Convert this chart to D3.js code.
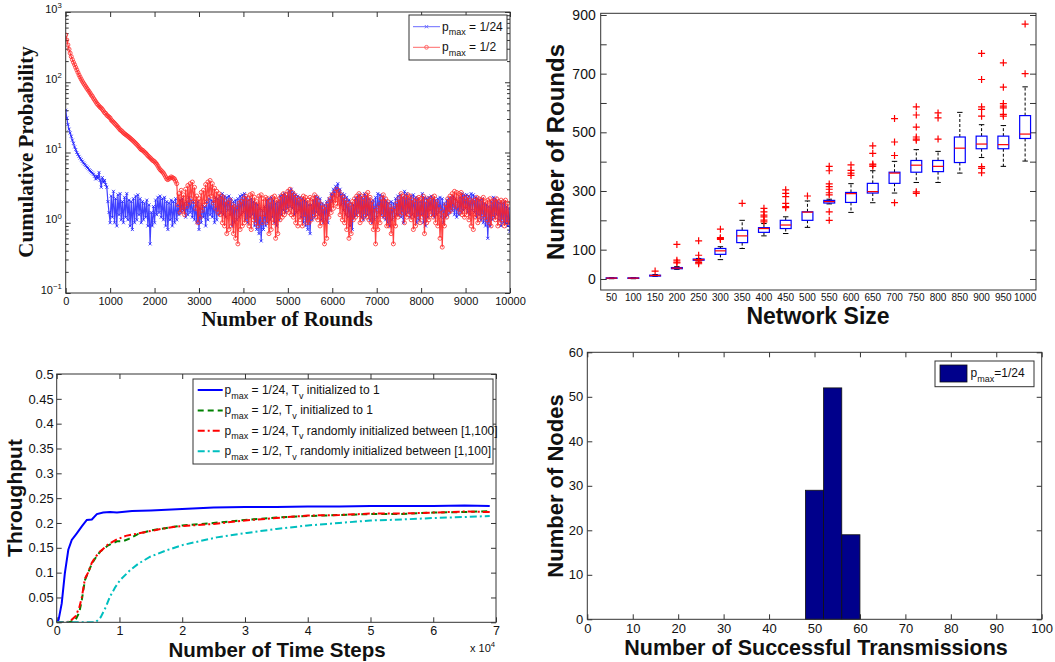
<!DOCTYPE html>
<html><head><meta charset="utf-8">
<script src="https://cdn.jsdelivr.net/npm/d3@7"></script>
<style>
body{margin:0;background:#fff}
svg{display:block}
text{font-family:"Liberation Sans",Arial,Helvetica,sans-serif;fill:#111}
</style>
</head><body>
<svg id="c" width="1055" height="662"></svg>
<script>
// ---------------- DATA ----------------
// Panel 1: cumulative probability vs rounds (one reading every roundsStep rounds)
const roundsStep = 25;
const probPmax24 = [
40,31,25,21.5,19,17,15,13.5,12,11, 10,9.4,8.8,8.3,7.9,7.5,7.1,6.8,6.5,6.2,
6,5.7,5.5,5.3,5.1,4.9,4.6,4.2,4.6,4.3, 5.2,4.0,3.2,4.4,3.8,4.0,3.5,3.2,2.0,1.4,
1.0,2.4,1.2,2.8,1.0,2.2,0.9,2.5,1.3,2.6,1.1,2.0,1.0,2.3,1.2,2.6,1.1,2.1,0.9,2.0,
0.8,2.2,1.0,2.4,1.1,2.5,1.3,2.2,1.0,2.0,1.1,1.9,1.2,2.1,0.9,1.8,0.5,1.4,0.9,1.7,
1.0,2.1,1.3,2.3,1.4,2.4,1.2,2.2,1.1,2.3,0.9,2.0,0.8,1.9,1.1,2.1,0.9,2.0,1.0,2.2,
1.1,1.8,1.3,2.1,1.4,2.2,1.5,1.9,1.2,2.0,1.3,2.3,1.4,2.1,1.2,2.0,1.1,1.8,1.0,2.0,
0.8,1.6,1.0,1.8,1.2,1.7,0.9,2.0,1.1,2.2,1.3,2.1,1.2,2.0,1.0,2.3,1.1,2.2,1.3,2.4,
1.4,2.6,1.3,2.4,1.2,2.3,1.5,2.4,1.3,2.2,0.9,2.0,1.0,2.1,1.1,2.2,1.2,2.4,1.3,2.5,
1.4,2.6,1.1,2.3,1.0,2.1,1.2,2.2,1.3,2.0,0.9,1.9,0.8,1.8,0.7,1.6,0.55,1.5,0.8,1.7,
0.9,2.1,1.0,2.2,1.1,2.3,1.2,2.1,1.0,1.9,0.9,2.0,1.1,2.4,1.3,2.5,1.5,2.6,1.4,2.4,
1.6,2.8,1.7,3.0,1.6,2.7,1.3,2.5,1.4,2.4,1.5,2.3,1.2,2.2,1.0,2.1,0.9,2.0,0.8,1.8,
0.7,1.8,1.1,2.1,1.2,2.4,1.4,2.3,1.3,2.2,1.1,1.9,1.0,1.8,1.1,2.0,1.0,2.2,1.5,2.6,
2.0,3.0,2.4,3.3,2.8,3.6,2.4,3.0,1.8,2.6,1.5,2.5,1.3,2.3,1.2,2.1,0.9,1.9,0.8,1.8,
1.2,2.2,1.3,2.4,1.4,2.5,1.2,2.3,1.1,2.6,1.2,2.4,1.3,2.2,1.1,2.0,1.0,2.1,1.1,2.3,
1.2,2.6,1.4,2.5,1.3,2.4,1.2,2.2,1.1,2.0,1.0,1.9,0.9,2.0,1.1,1.9,1.2,2.2,1.3,2.4,
1.3,2.5,1.2,2.3,1.0,2.8,1.3,2.6,1.4,2.2,1.2,2.4,1.3,2.5,1.2,2.3,1.0,2.2,1.1,2.0,
1.3,2.6,1.0,2.3,0.9,2.2,1.2,2.3,1.5,2.4,1.3,2.2,1.2,2.1,1.3,2.2,1.4,2.3,1.2,2.2,
1.0,1.9,1.2,2.1,1.3,2.2,1.4,2.3,1.5,2.4,1.3,2.2,1.2,2.0,1.3,2.3,1.4,2.6,1.5,2.5,
1.6,2.5,1.4,2.4,1.3,2.6,1.5,2.5,1.4,2.3,1.2,2.2,1.3,2.1,1.1,2.2,1.0,1.9,0.9,1.8,
0.6,1.7,0.9,2.0,1.1,2.3,1.2,2.2,1.3,2.0,1.1,1.9,0.9,1.9,1.0,2.0,1.0,1.7,0.9,1.6,
0.75];
const probPmax2 = [
470,400,340,295,260,232,210,192,178,163, 150,138,127,118,110,103,97,92,87,82,
78,74,70,66,63,59,56,53,50,48, 46,44,43,41,39,37,36,34,33,32,
31,29,28,27,26,25,24,23,22,21, 20.5,19.8,19,18.5,18,17.5,17,16.5,16,15.5,
15,14.5,14,13.5,13,12.5,12,11.4,11,10.8, 10.5,10.1,9.8,9.4,9,8.7,8.4,8.1,7.8,7.6,
7.4,7.1,6.8,6.4,6,5.7,5.5,5.3,5.1,4.8, 4.5,4.2,4.1,4.3,4.3,4.5,4.4,4.3,4.2,3.9,
3.6,
1.8,2.6,1.4,2.9,1.5,2.5,1.3,3.0,1.7,3.4,1.9,3.6,2.2,3.8,2.0,3.2,1.6,2.4,1.0,2.2,
1.2,2.7,1.5,2.9,1.8,3.5,2.0,3.8,2.3,4.0,2.4,3.6,1.9,3.1,1.6,2.8,1.4,2.6,1.3,2.4,
1.0,2.3,0.9,2.0,0.7,1.9,0.8,2.1,0.9,1.8,0.7,1.7,0.6,1.6,0.5,1.9,0.8,2.0,0.9,2.2,
1.0,2.4,1.1,2.2,0.9,2.5,0.8,2.6,1.1,2.3,1.0,2.0,0.9,2.4,1.2,2.5,1.0,2.2,1.2,2.3,
1.0,2.2,0.7,2.0,0.8,2.3,1.0,2.4,0.6,2.1,0.7,2.2,1.1,2.4,1.2,2.6,1.3,2.5,1.5,2.8,
1.4,3.0,1.3,2.7,1.2,2.5,1.0,2.3,0.9,2.1,1.1,2.2,0.9,2.4,1.2,2.3,1.0,2.1,1.0,2.3,
1.1,2.2,1.3,2.5,1.2,2.3,1.1,2.0,0.9,1.8,1.0,1.6,0.5,1.7,0.6,1.9,1.2,2.2,1.4,2.5,
1.6,2.7,1.9,3.0,1.7,2.8,1.3,2.5,1.1,2.3,1.0,2.1,0.8,1.9,0.6,1.8,0.7,2.0,1.1,2.2,
1.2,2.4,1.3,2.6,1.0,2.4,1.1,2.2,1.3,2.5,1.2,2.7,1.1,2.3,1.0,2.0,0.8,1.6,0.5,1.5,
0.8,1.8,1.0,2.2,1.3,2.5,1.2,2.2,0.9,2.0,0.9,1.7,0.7,1.5,0.5,1.6,0.9,1.9,1.2,2.2,
1.3,2.6,1.4,2.4,1.0,2.3,1.2,2.5,1.3,2.4,1.1,2.1,0.8,2.0,0.9,2.2,1.2,2.3,1.0,2.2,
1.2,2.4,0.7,2.0,1.0,2.2,1.1,2.1,1.3,2.3,1.2,2.4,1.0,2.0,0.9,1.7,0.6,1.5,0.45,1.4,
0.9,1.8,1.2,2.2,1.4,2.4,1.5,2.6,1.8,2.8,1.7,2.7,1.6,2.6,1.4,2.7,1.3,2.4,1.2,2.2,
1.3,2.3,1.1,2.1,0.9,2.0,0.8,2.1,1.2,2.3,1.0,2.2,1.1,2.1,1.3,2.3,1.2,2.0,1.1,2.1,
1.0,2.2,0.9,2.0,1.2,2.1,1.1,2.2,0.9,2.0,1.0,2.1,1.1,2.0,0.9,2.1,1.0,1.9,1.1,1.0];
const roundTicks = [0,1000,2000,3000,4000,5000,6000,7000,8000,9000,10000];
const probTicks = [0.1,1,10,100,1000];
const probLegend = ["= 1/24", "= 1/2"];

// Panel 2: boxplot of rounds vs network size
const networkSizes = [50,100,150,200,250,300,350,400,450,500,550,600,650,700,750,800,850,900,950,1000];
const roundsQ1     = [2,2,10,35,64,84,124,159,172,200,259,261,293,326,364,366,397,444,444,479];
const roundsMedian = [3,3,12,37,66,96,147,172,184,228,264,291,298,361,388,384,446,460,458,494];
const roundsQ3     = [4,4,13,39,68,104,166,175,200,229,268,295,326,364,404,404,484,487,487,557];
const roundsLow    = [1,1,9,33,62,66,104,147,155,176,256,227,260,293,329,329,361,414,384,402];
const roundsHigh   = [5,5,15,42,70,110,200,189,212,266,272,325,369,401,441,435,568,526,523,655];
const roundsOutliers = [[],[],[27],[118,64,58,55],[130,81,62,56,52],[170,141,138,135],[258],
  [241,229,218,212,201,195],[304,292,281,258,247,243],[283],
  [384,369,324,315,306,294,287,229,200],[389,370,361,353],[454,428,392,389,384],
  [547,467,421,260],[587,559,518,484,477,473,297,292],[566,549,477],[],
  [769,680,587,578,555,383,377,362],[737,654,598,589,583,561,555],[869,700]];
const roundsAxisTicks = [0,100,200,300,400,500,600,700,800,900];
const roundsAxisLabels = [0,100,300,500,700,900];

// Panel 3: throughput vs time steps
const stepsA = [0,300,800,1300,1850,2400,3200,4000,4800,5600,6400,7400,8500,9600,12000,15000,20000,25000,30000,35000,40000,45000,50000,55000,60000,65000,69000];
const thrA   = [0,0.005,0.038,0.099,0.146,0.166,0.179,0.193,0.206,0.207,0.218,0.221,0.222,0.221,0.224,0.225,0.228,0.231,0.232,0.232,0.233,0.233,0.234,0.234,0.234,0.235,0.234];
const stepsB = [0,2000,3000,3600,4000,4500,5000,5600,6200,6900,8200,9600,10500,11500,13000,15000,17500,20000,25000,30000,35000,40000,45000,50000,55000,60000,65000,69000];
const thrB   = [0,0,0.005,0.02,0.045,0.085,0.1,0.118,0.13,0.142,0.155,0.163,0.163,0.168,0.178,0.185,0.19,0.195,0.2,0.206,0.211,0.214,0.216,0.218,0.218,0.221,0.222,0.224];
const stepsC = [0,2000,3000,3600,4000,4500,5000,5600,6200,6900,8200,9600,11000,13000,15000,17500,20000,25000,30000,35000,40000,45000,50000,55000,60000,65000,69000];
const thrC   = [0,0.001,0.012,0.03,0.05,0.088,0.1,0.12,0.132,0.142,0.157,0.167,0.174,0.179,0.184,0.19,0.194,0.198,0.205,0.21,0.215,0.216,0.219,0.219,0.221,0.223,0.222];
const stepsD = [0,5000,6200,7000,7800,8500,9300,10100,11700,13000,14900,17500,20200,23000,25500,30300,35000,40000,45000,50000,55000,60000,65000,69000];
const thrD   = [0,0,0,0.01,0.03,0.052,0.07,0.085,0.105,0.118,0.132,0.145,0.156,0.164,0.171,0.18,0.188,0.195,0.2,0.205,0.207,0.21,0.212,0.214];
const stepTicks = [0,10000,20000,30000,40000,50000,60000,70000];
const thrTicks = [0,0.05,0.1,0.15,0.2,0.25,0.3,0.35,0.4,0.45,0.5];
const thrLegendPmax = ["1/24","1/2","1/24","1/2"];
const thrLegendRest = ["initialized to 1","initialized to 1","randomly initialized between [1,100]","randomly initialized between [1,100]"];

// Panel 4: histogram
const binEdges = [48,52,56,60];
const binCounts = [29,52,19];
const transTicks = [0,10,20,30,40,50,60,70,80,90,100];
const nodeTicks = [0,10,20,30,40,50,60];

// ---------------- DRAWING ----------------
const svg = d3.select("#c");
const AX = "#333";

function richText(sel, parts, size){
  let off = 0;
  parts.forEach(([s,m])=>{
    const t = sel.append("tspan").text(s);
    let target = 0, fs = size;
    if(m==="sub"){ target = size*0.38; fs = size*0.75; }
    if(m==="sup"){ target = -size*0.42; fs = size*0.7; }
    t.attr("font-size", fs).attr("dy", target-off);
    off = target;
  });
}
function styleAxis(g, fs){
  g.select(".domain").remove();
  g.selectAll(".tick line").attr("stroke", AX);
  g.selectAll(".tick text").attr("font-size", fs).attr("fill","#111");
}
function frame(g, p){
  g.append("rect").attr("x",p.l).attr("y",p.t).attr("width",p.r-p.l).attr("height",p.b-p.t)
    .attr("fill","none").attr("stroke",AX).attr("stroke-width",1);
}
function clip(id, p){
  svg.append("clipPath").attr("id",id).append("rect")
    .attr("x",p.l).attr("y",p.t).attr("width",p.r-p.l).attr("height",p.b-p.t);
}

// ===== Panel 1 =====
(function(){
  const p = {l:65.7, r:510, t:12, b:293};
  const x = d3.scaleLinear().domain([0,10000]).range([p.l,p.r]);
  const y = d3.scaleLog().domain([0.1,1000]).range([p.b,p.t]);
  const g = svg.append("g");
  clip("c1", p);
  const minor = y.ticks().filter(v => !probTicks.some(t => Math.abs(t-v)<1e-9));

  g.append("g").attr("transform",`translate(0,${p.b})`)
    .call(d3.axisBottom(x).tickValues(roundTicks).tickSize(-5).tickPadding(4).tickFormat(d3.format("d")))
    .call(a=>styleAxis(a,11));
  g.append("g").attr("transform",`translate(0,${p.t})`)
    .call(d3.axisTop(x).tickValues(roundTicks).tickSize(-5).tickFormat(""))
    .call(a=>styleAxis(a,11));
  const yl = g.append("g").attr("transform",`translate(${p.l},0)`)
    .call(d3.axisLeft(y).tickValues(probTicks).tickSize(-5).tickPadding(4).tickFormat(""))
    .call(a=>styleAxis(a,11));
  yl.selectAll(".tick text").each(function(d){
    const e = Math.round(Math.log10(d));
    d3.select(this).attr("text-anchor","end").attr("dy","0.32em")
      .call(t=>richText(t, [["10",""],[e<0?"\u2212"+(-e):String(e),"sup"]], 11));
  });
  g.append("g").attr("transform",`translate(${p.l},0)`)
    .call(d3.axisLeft(y).tickValues(minor).tickSize(-3).tickFormat("")).call(a=>styleAxis(a,11));
  g.append("g").attr("transform",`translate(${p.r},0)`)
    .call(d3.axisRight(y).tickValues(probTicks).tickSize(-5).tickFormat("")).call(a=>styleAxis(a,11));
  g.append("g").attr("transform",`translate(${p.r},0)`)
    .call(d3.axisRight(y).tickValues(minor).tickSize(-3).tickFormat("")).call(a=>styleAxis(a,11));

  const line = d3.line().x((d,i)=>x(i*roundsStep)).y(d=>y(d));
  const dg = g.append("g").attr("clip-path","url(#c1)");
  dg.append("path").datum(probPmax24).attr("d",line).attr("fill","none")
    .attr("stroke","#2020ff").attr("stroke-opacity",0.85).attr("stroke-width",1.2);
  dg.append("g").selectAll("path").data(probPmax24).join("path")
    .attr("transform",(d,i)=>`translate(${x(i*roundsStep)},${y(d)})`)
    .attr("d","M-1.5,-1.5L1.5,1.5M-1.5,1.5L1.5,-1.5")
    .attr("stroke","#1a1aff").attr("stroke-width",0.8).attr("fill","none");
  dg.append("path").datum(probPmax2).attr("d",line).attr("fill","none")
    .attr("stroke","#ff2020").attr("stroke-opacity",0.85).attr("stroke-width",1.2);
  dg.append("g").selectAll("circle").data(probPmax2).join("circle")
    .attr("cx",(d,i)=>x(i*roundsStep)).attr("cy",d=>y(d)).attr("r",2)
    .attr("fill","none").attr("stroke","#ff2a2a").attr("stroke-width",0.8);

  frame(g,p);

  const L = {l:409, t:15, r:507, b:60};
  const lg = g.append("g");
  lg.append("rect").attr("x",L.l).attr("y",L.t).attr("width",L.r-L.l).attr("height",L.b-L.t)
    .attr("fill","#fff").attr("stroke",AX);
  const cols = ["#6a6aff","#ff6a6a"];
  probLegend.forEach((lab,i)=>{
    const yy = 26.7 + i*20.6;
    lg.append("line").attr("x1",413).attr("x2",440).attr("y1",yy).attr("y2",yy).attr("stroke",cols[i]).attr("stroke-width",1);
    if(i===0) lg.append("path").attr("transform",`translate(426.5,${yy})`).attr("d","M-1.6,-1.6L1.6,1.6M-1.6,1.6L1.6,-1.6").attr("stroke",cols[i]);
    else lg.append("circle").attr("cx",426.5).attr("cy",yy).attr("r",1.9).attr("fill","none").attr("stroke",cols[i]);
    lg.append("text").attr("x",442).attr("y",yy+4).call(t=>richText(t,[["p",""],["max","sub"],[" "+lab,""]],12));
  });

  g.append("text").attr("x",287).attr("y",326).attr("text-anchor","middle")
    .style("font-family","'Liberation Serif','Times New Roman',serif").attr("font-weight","bold").attr("font-size",21)
    .text("Number of Rounds");
  g.append("text").attr("transform","translate(33,152) rotate(-90)").attr("text-anchor","middle")
    .style("font-family","'Liberation Serif','Times New Roman',serif").attr("font-weight","bold").attr("font-size",21)
    .text("Cumulative Probability");
})();

// ===== Panel 2 =====
(function(){
  const p = {l:600.7, r:1036, t:13.3, b:290};
  const x = d3.scaleBand().domain(networkSizes).range([p.l,p.r]).padding(0);
  const y = d3.scaleLinear().domain([-37.5,905.7]).range([p.b,p.t]);
  const g = svg.append("g");
  g.append("g").attr("transform",`translate(${p.l},0)`)
    .call(d3.axisLeft(y).tickValues(roundsAxisTicks).tickSize(-6).tickPadding(5)
      .tickFormat(d=>roundsAxisLabels.includes(d)?String(d):""))
    .call(a=>styleAxis(a,14));
  g.append("g").attr("transform",`translate(${p.r},0)`)
    .call(d3.axisRight(y).tickValues(roundsAxisTicks).tickSize(-6).tickFormat(""))
    .call(a=>styleAxis(a,14));
  g.append("g").selectAll("text").data(networkSizes).join("text")
    .attr("x",d=>x(d)+x.bandwidth()/2).attr("y",300.5).attr("text-anchor","middle")
    .attr("font-size",10).text(d=>d);

  const bw = x.bandwidth()*0.5, cw = bw*0.5;
  const bg = g.append("g");
  networkSizes.forEach((n,i)=>{
    const cx = x(n)+x.bandwidth()/2;
    bg.append("line").attr("x1",cx).attr("x2",cx).attr("y1",y(roundsQ3[i])).attr("y2",y(roundsHigh[i]))
      .attr("stroke","#000").attr("stroke-dasharray","3,2");
    bg.append("line").attr("x1",cx).attr("x2",cx).attr("y1",y(roundsQ1[i])).attr("y2",y(roundsLow[i]))
      .attr("stroke","#000").attr("stroke-dasharray","3,2");
    bg.append("line").attr("x1",cx-cw/2).attr("x2",cx+cw/2).attr("y1",y(roundsHigh[i])).attr("y2",y(roundsHigh[i])).attr("stroke","#000");
    bg.append("line").attr("x1",cx-cw/2).attr("x2",cx+cw/2).attr("y1",y(roundsLow[i])).attr("y2",y(roundsLow[i])).attr("stroke","#000");
    bg.append("rect").attr("x",cx-bw/2).attr("width",bw).attr("y",y(roundsQ3[i]))
      .attr("height",Math.max(0.5,y(roundsQ1[i])-y(roundsQ3[i])))
      .attr("fill","#fff").attr("stroke","#0000ff").attr("stroke-width",1.2);
    bg.append("line").attr("x1",cx-bw/2).attr("x2",cx+bw/2).attr("y1",y(roundsMedian[i])).attr("y2",y(roundsMedian[i]))
      .attr("stroke","#ff0000").attr("stroke-width",1.2);
    roundsOutliers[i].forEach(v=>{
      bg.append("path").attr("transform",`translate(${cx},${y(v)})`).attr("d","M-3.5,0H3.5M0,-3.5V3.5")
        .attr("stroke","#ff0000").attr("stroke-width",1.2);
    });
  });
  frame(g,p);
  g.append("text").attr("x",818).attr("y",324).attr("text-anchor","middle")
    .attr("font-weight","bold").attr("font-size",23).text("Network Size");
  g.append("text").attr("transform","translate(564,152) rotate(-90)").attr("text-anchor","middle")
    .attr("font-weight","bold").attr("font-size",24).text("Number of Rounds");
})();

// ===== Panel 3 =====
(function(){
  const p = {l:56.7, r:496, t:374, b:622.3};
  const x = d3.scaleLinear().domain([0,70000]).range([p.l,p.r]);
  const y = d3.scaleLinear().domain([0,0.5]).range([p.b,p.t]);
  const g = svg.append("g");
  clip("c3", p);
  const fmtY = d=>String(Math.round(d*100)/100);
  g.append("g").attr("transform",`translate(0,${p.b})`)
    .call(d3.axisBottom(x).tickValues(stepTicks).tickSize(-5).tickPadding(4).tickFormat(d=>String(d/10000)))
    .call(a=>styleAxis(a,12.5));
  g.append("g").attr("transform",`translate(0,${p.t})`)
    .call(d3.axisTop(x).tickValues(stepTicks).tickSize(-5).tickFormat("")).call(a=>styleAxis(a,13));
  g.append("g").attr("transform",`translate(${p.l},0)`)
    .call(d3.axisLeft(y).tickValues(thrTicks).tickSize(-5).tickPadding(3).tickFormat(fmtY)).call(a=>styleAxis(a,13));
  g.append("g").attr("transform",`translate(${p.r},0)`)
    .call(d3.axisRight(y).tickValues(thrTicks).tickSize(-5).tickFormat("")).call(a=>styleAxis(a,13));

  const series = [
    {xs:stepsA, ys:thrA, c:"#0000ff", dash:null},
    {xs:stepsB, ys:thrB, c:"#008000", dash:"6,4"},
    {xs:stepsC, ys:thrC, c:"#ff0000", dash:"7,3,2,3"},
    {xs:stepsD, ys:thrD, c:"#00bfbf", dash:"7,3,2,3"}
  ];
  const dg = g.append("g").attr("clip-path","url(#c3)");
  series.forEach(s=>{
    const line = d3.line().x((d,i)=>x(s.xs[i])).y(d=>y(d));
    dg.append("path").datum(s.ys).attr("d",line).attr("fill","none").attr("stroke",s.c)
      .attr("stroke-width",2).attr("stroke-dasharray",s.dash);
  });
  frame(g,p);

  const lg = g.append("g");
  lg.append("rect").attr("x",193).attr("y",379).attr("width",300).attr("height",85).attr("fill","#fff").attr("stroke",AX);
  series.forEach((s,i)=>{
    const yy = 390 + i*20.4;
    lg.append("line").attr("x1",197.7).attr("x2",222.7).attr("y1",yy).attr("y2",yy)
      .attr("stroke",s.c).attr("stroke-width",2).attr("stroke-dasharray",s.dash);
    lg.append("text").attr("x",224.5).attr("y",yy+4)
      .call(t=>richText(t,[["p",""],["max","sub"],[" = "+thrLegendPmax[i]+", T",""],["v","sub"],[" "+thrLegendRest[i],""]],12));
  });
  g.append("text").attr("x",470).attr("y",652).attr("font-size",11)
    .call(t=>richText(t,[["x 10",""],["4","sup"]],11));
  g.append("text").attr("x",277).attr("y",656.5).attr("text-anchor","middle")
    .attr("font-weight","bold").attr("font-size",20.5).text("Number of Time Steps");
  g.append("text").attr("transform","translate(22,498) rotate(-90)").attr("text-anchor","middle")
    .attr("font-weight","bold").attr("font-size",21).text("Throughput");
})();

// ===== Panel 4 =====
(function(){
  const p = {l:587.3, r:1041.7, t:352.3, b:619.3};
  const x = d3.scaleLinear().domain([0,100]).range([p.l,p.r]);
  const y = d3.scaleLinear().domain([0,60]).range([p.b,p.t]);
  const g = svg.append("g");
  g.append("g").attr("transform",`translate(0,${p.b})`)
    .call(d3.axisBottom(x).tickValues(transTicks).tickSize(-5).tickPadding(4).tickFormat(d3.format("d")))
    .call(a=>styleAxis(a,13));
  g.append("g").attr("transform",`translate(0,${p.t})`)
    .call(d3.axisTop(x).tickValues(transTicks).tickSize(-5).tickFormat("")).call(a=>styleAxis(a,13));
  g.append("g").attr("transform",`translate(${p.l},0)`)
    .call(d3.axisLeft(y).tickValues(nodeTicks).tickSize(-5).tickPadding(4).tickFormat(d3.format("d")))
    .call(a=>styleAxis(a,13));
  g.append("g").attr("transform",`translate(${p.r},0)`)
    .call(d3.axisRight(y).tickValues(nodeTicks).tickSize(-5).tickFormat("")).call(a=>styleAxis(a,13));

  g.append("g").selectAll("rect").data(binCounts).join("rect")
    .attr("x",(d,i)=>x(binEdges[i])).attr("width",(d,i)=>x(binEdges[i+1])-x(binEdges[i]))
    .attr("y",d=>y(d)).attr("height",d=>y(0)-y(d))
    .attr("fill","#00008b").attr("stroke","#111").attr("stroke-width",0.8);
  frame(g,p);

  const lg = g.append("g");
  lg.append("rect").attr("x",935).attr("y",361).attr("width",99).attr("height",25.7).attr("fill","#fff").attr("stroke",AX);
  lg.append("rect").attr("x",940).attr("y",365).attr("width",27).attr("height",17).attr("fill","#00008b").attr("stroke","#111").attr("stroke-width",0.8);
  lg.append("text").attr("x",970.5).attr("y",377)
    .call(t=>richText(t,[["p",""],["max","sub"],["=1/24",""]],12));

  g.append("text").attr("x",816).attr("y",655).attr("text-anchor","middle")
    .attr("font-weight","bold").attr("font-size",21.5).text("Number of Successful Transmissions");
  g.append("text").attr("transform","translate(563,486) rotate(-90)").attr("text-anchor","middle")
    .attr("font-weight","bold").attr("font-size",22).text("Number of Nodes");
})();
</script>
</body></html>
